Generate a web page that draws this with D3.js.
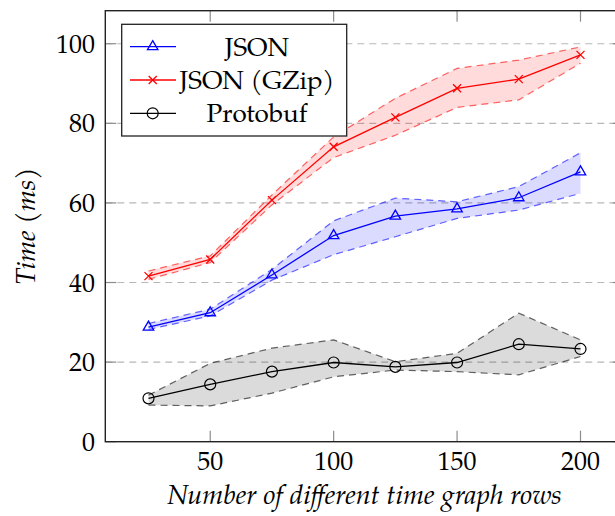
<html>
<head>
<meta charset="utf-8">
<style>
    body { margin: 0; background: #fff; }
    text { font-family: "TeX Gyre Pagella", Palatino, "Liberation Serif", serif; fill: #000; }
</style>
<script src="https://cdn.jsdelivr.net/npm/d3@7"></script>
</head>
<body>
<script>

    // rows on the x axis
    var rows = [25, 50, 75, 100, 125, 150, 175, 200];

    // JSON
    var jsonMean = [28.8, 32.4, 41.9, 51.8, 56.7, 58.5, 61.3, 67.8];
    var jsonHi   = [29.7, 33.3, 43.3, 55.5, 61.2, 60.3, 64.1, 72.6];
    var jsonLo   = [28.2, 31.6, 40.6, 47.0, 51.5, 56.1, 58.2, 62.4];

    // JSON (GZip)
    var gzipMean = [41.6, 45.8, 60.7, 74.1, 81.5, 88.8, 91.1, 97.2];
    var gzipHi   = [42.9, 46.7, 62.0, 76.6, 86.3, 93.8, 95.9, 99.2];
    var gzipLo   = [40.8, 45.0, 59.5, 71.4, 77.0, 84.0, 85.9, 95.1];

    // Protobuf
    var protoMean = [10.9, 14.4, 17.6, 19.9, 18.8, 19.9, 24.5, 23.3];
    var protoHi   = [11.7, 19.7, 23.5, 25.6, 20.1, 22.2, 32.3, 25.6];
    var protoLo   = [9.2, 9.0, 12.2, 16.3, 18.0, 17.6, 16.8, 21.4];

    var xTicks = [50, 100, 150, 200];
    var yTicks = [0, 20, 40, 60, 80, 100];

    var series = [
        {name: "JSON", color: "blue", mean: jsonMean, hi: jsonHi, lo: jsonLo, mark: "triangle"},
        {name: "JSON (GZip)", color: "red", mean: gzipMean, hi: gzipHi, lo: gzipLo, mark: "cross"},
        {name: "Protobuf", color: "black", mean: protoMean, hi: protoHi, lo: protoLo, mark: "circle"}
    ];

    var W = 615, H = 516;
    var pLeft = 105.3, pRight = 623.7, pTop = 10.7, pBottom = 441.7;

    var svg = d3.select("body").append("svg")
        .attr("width", W)
        .attr("height", H);

    var x = d3.scaleLinear().domain([7.5, 217.5]).range([pLeft, pRight]);
    var y = d3.scaleLinear().domain([0, 108.3]).range([pBottom, pTop]);

    // grid
    svg.append("g")
        .selectAll("line")
        .data(yTicks.filter(function (d) { return d > 0; }))
        .enter().append("line")
        .attr("x1", pLeft).attr("x2", pRight)
        .attr("y1", function (d) { return y(d); })
        .attr("y2", function (d) { return y(d); })
        .attr("stroke", "#b8b8b8")
        .attr("stroke-width", 1.2)
        .attr("stroke-dasharray", "7,5");

    var line = d3.line()
        .x(function (d) { return x(d[0]); })
        .y(function (d) { return y(d[1]); });

    var area = d3.area()
        .x(function (d, i) { return x(rows[i]); })
        .y0(function (d) { return y(d[0]); })
        .y1(function (d) { return y(d[1]); });

    // bands
    series.forEach(function (s) {
        var band = s.lo.map(function (v, i) { return [v, s.hi[i]]; });
        svg.append("path")
            .attr("d", area(band))
            .attr("fill", s.color)
            .attr("fill-opacity", 0.14);
        [s.hi, s.lo].forEach(function (edge) {
            svg.append("path")
                .attr("d", line(rows.map(function (r, i) { return [r, edge[i]]; })))
                .attr("fill", "none")
                .attr("stroke", s.color)
                .attr("stroke-opacity", 0.6)
                .attr("stroke-width", 1.2)
                .attr("stroke-dasharray", "7,5");
        });
    });

    function drawMark(g, type, color, cx, cy) {
        if (type === "triangle") {
            var r = 6;
            g.append("path")
                .attr("d", "M" + cx + "," + (cy - r) + "L" + (cx + r * 0.87) + "," + (cy + r * 0.5) +
                    "L" + (cx - r * 0.87) + "," + (cy + r * 0.5) + "Z")
                .attr("fill", "none").attr("stroke", color).attr("stroke-width", 1.3);
        } else if (type === "cross") {
            var c = 4;
            g.append("path")
                .attr("d", "M" + (cx - c) + "," + (cy - c) + "L" + (cx + c) + "," + (cy + c) +
                    "M" + (cx - c) + "," + (cy + c) + "L" + (cx + c) + "," + (cy - c))
                .attr("fill", "none").attr("stroke", color).attr("stroke-width", 1.3);
        } else {
            g.append("circle")
                .attr("cx", cx).attr("cy", cy).attr("r", 5.5)
                .attr("fill", "none").attr("stroke", color).attr("stroke-width", 1.2);
        }
    }

    // lines and marks
    series.forEach(function (s) {
        svg.append("path")
            .attr("d", line(rows.map(function (r, i) { return [r, s.mean[i]]; })))
            .attr("fill", "none")
            .attr("stroke", s.color)
            .attr("stroke-width", 1.3);
        var g = svg.append("g");
        rows.forEach(function (r, i) {
            drawMark(g, s.mark, s.color, x(r), y(s.mean[i]));
        });
    });

    // ticks (inside, mirrored)
    var tk = svg.append("g").attr("stroke", "#8c8c8c").attr("stroke-width", 1.2);
    xTicks.forEach(function (t) {
        tk.append("line").attr("x1", x(t)).attr("x2", x(t)).attr("y1", pBottom).attr("y2", pBottom - 11);
        tk.append("line").attr("x1", x(t)).attr("x2", x(t)).attr("y1", pTop).attr("y2", pTop + 11);
    });
    yTicks.forEach(function (t) {
        tk.append("line").attr("x1", pLeft).attr("x2", pLeft + 11).attr("y1", y(t)).attr("y2", y(t));
        tk.append("line").attr("x1", pRight).attr("x2", pRight - 11).attr("y1", y(t)).attr("y2", y(t));
    });

    // frame
    svg.append("rect")
        .attr("x", pLeft).attr("y", pTop)
        .attr("width", pRight - pLeft).attr("height", pBottom - pTop)
        .attr("fill", "none")
        .attr("stroke", "#222")
        .attr("stroke-width", 1.4);

    // tick labels
    svg.append("g").selectAll("text")
        .data(xTicks).enter().append("text")
        .attr("x", function (d) { return x(d); })
        .attr("y", 470)
        .attr("text-anchor", "middle")
        .attr("font-size", "26px")
        .text(function (d) { return d; });

    svg.append("g").selectAll("text")
        .data(yTicks).enter().append("text")
        .attr("x", 95)
        .attr("y", function (d) { return y(d) + 9; })
        .attr("text-anchor", "end")
        .attr("font-size", "26px")
        .text(function (d) { return d; });

    // axis titles
    svg.append("text")
        .attr("x", (pLeft + pRight) / 2)
        .attr("y", 504)
        .attr("text-anchor", "middle")
        .attr("font-size", "27px")
        .attr("font-style", "italic")
        .text("Number of different time graph rows");

    svg.append("text")
        .attr("transform", "translate(35," + ((pTop + pBottom) / 2) + ") rotate(-90)")
        .attr("text-anchor", "middle")
        .attr("font-size", "27px")
        .attr("font-style", "italic")
        .text("Time (ms)");

    // legend
    var lg = svg.append("g");
    lg.append("rect")
        .attr("x", 121.7).attr("y", 24.3)
        .attr("width", 225).attr("height", 111.7)
        .attr("fill", "#fff")
        .attr("stroke", "#222")
        .attr("stroke-width", 1.3);

    series.forEach(function (s, i) {
        var cy = 46.7 + i * 33.3;
        lg.append("line")
            .attr("x1", 130).attr("x2", 176)
            .attr("y1", cy).attr("y2", cy)
            .attr("stroke", s.color)
            .attr("stroke-width", 1.3);
        drawMark(lg, s.mark, s.color, 152.7, cy);
        lg.append("text")
            .attr("x", 257)
            .attr("y", cy + 9)
            .attr("text-anchor", "middle")
            .attr("font-size", "26px")
            .text(s.name);
    });

</script>
</body>
</html>
